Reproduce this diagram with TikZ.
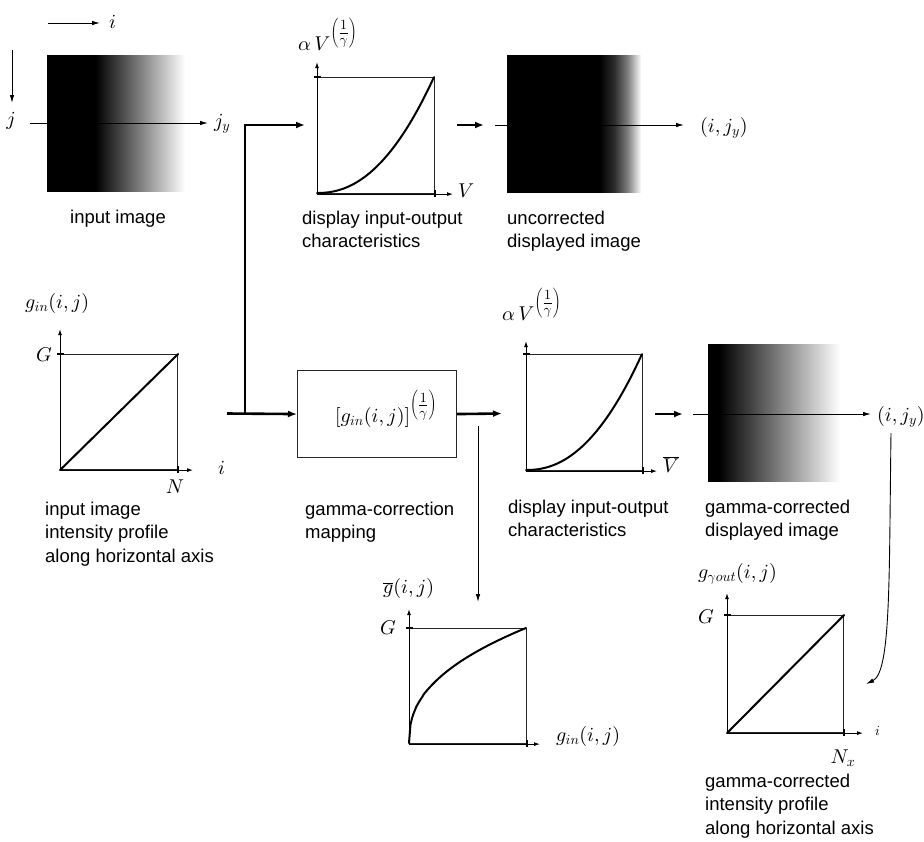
\documentclass[tikz,border=0pt]{standalone}
\usepackage[no-math]{fontspec}
\newfontfamily\lab{Liberation Sans}
\DeclareFontShape{OML}{cmm}{m}{it}{<->cmmi10}{}
\DeclareFontShape{OT1}{cmr}{m}{n}{<->cmr10}{}
\DeclareFontShape{OMS}{cmsy}{m}{n}{<->cmsy10}{}
\usetikzlibrary{arrows.meta}
\pgfdeclarehorizontalshading{inimgsh}{100bp}{color(0bp)=(black); color(25bp)=(black); color(42.5bp)=(black); color(75bp)=(white); color(100bp)=(white)}
\pgfdeclarehorizontalshading{uncsh}{100bp}{color(0bp)=(black); color(25bp)=(black); color(59.5bp)=(black); color(65bp)=(white!18!black); color(70bp)=(white!50!black); color(73.5bp)=(white!85!black); color(75bp)=(white); color(100bp)=(white)}
\pgfdeclarehorizontalshading{corsh}{100bp}{color(0bp)=(black); color(25bp)=(black); color(29bp)=(black); color(73.5bp)=(white); color(75bp)=(white); color(100bp)=(white)}
\newcommand{\gexp}{^{\textstyle\left(\frac{1}{\gamma}\right)}}
\begin{document}
\begin{tikzpicture}[x=1pt,y=-1pt,
  lbl/.style={font=\lab\fontsize{18.5}{23.5}\selectfont, align=left, inner sep=0, anchor=base west},
  mth/.style={font=\fontsize{20}{24}\selectfont, inner sep=0},
  frame/.style={draw=black!85, line width=1.1pt, inner sep=0, anchor=north west},
  img/.style={inner sep=0, anchor=north west, shade},
  crv/.style={line width=2pt, line cap=round},
  ax/.style={line width=0.9pt, -{Latex[length=6pt,width=4pt]}},
  tickmark/.style={line width=2.2pt},
  conn/.style={line width=2.6pt, -{Latex[length=9pt,width=7pt]}},
  thinarr/.style={line width=0.9pt, -{Latex[length=8pt,width=4.5pt]}},
  boxstyle/.style={draw=black!85, line width=1.1pt, inner sep=0, anchor=north west}]
\useasboundingbox (0,0) rectangle (924,841);

% ---------- orientation arrows
\coordinate (ia) at (48,23); \coordinate (ib) at (100,23);
\node[mth, anchor=base west] (ilab) at (109,28) {$i$};
\draw[thinarr] (ia) -- (ib);
\coordinate (ja) at (12,50); \coordinate (jb) at (12,103);
\draw[thinarr] (ja) -- (jb);
\node[mth, anchor=base] (jlab) at (11,125) {$j$};

% ---------- input image
\node[img, shading=inimgsh, minimum width=138, minimum height=136] (inimg) at (47,55) {};
\coordinate (scanA) at (30,123); \coordinate (scanB) at (208,123);
\draw[thinarr] (scanA) -- (scanB);
\node[mth, anchor=base west] (jy) at (214,127) {$j_y$};
\node[lbl] (inimgtxt) at (70,223) {input image};

% ---------- thick routing
\coordinate (c1) at (245,125);
\coordinate (c2) at (245,413.5);
\coordinate (c0) at (227,413.5);
\coordinate (a1) at (305,125);

% ---------- top display characteristic
\node[frame, minimum width=117, minimum height=116] (g1) at (317,77) {};
\draw[conn, line join=miter] (c2) -- (c1) -- (a1);
\draw[ax] (g1.south west) -- ++(0,-132);
\draw[ax] (g1.south west) -- ++(136,0);
\draw[tickmark] ([xshift=-3]g1.north west) -- ([xshift=4]g1.north west);
\draw[tickmark] ([yshift=-3]g1.south east) -- ([yshift=4]g1.south east);
\draw[crv] plot[domain=0:1, samples=50] ({317+117*\x}, {193-116*pow(\x,2.2)});
\node[mth, anchor=base west] (Vlab) at (458,197) {$V$};
\node[mth, anchor=base west] (av1) at (298,50) {$\alpha\,V\gexp$};
\node[lbl] (d1txt) at (302,247.5) {display input-output\\characteristics};

% ---------- uncorrected image
\coordinate (a2s) at (457,125); \coordinate (a2e) at (484,125);
\draw[conn] (a2s) -- (a2e);
\node[img, shading=uncsh, minimum width=134, minimum height=137] (uncimg) at (507,55) {};
\coordinate (s2a) at (495,125); \coordinate (s2b) at (684,125);
\draw[thinarr] (s2a) -- (s2b);
\node[mth, anchor=base west] (ijy1) at (700,132) {$(i,j_y)$};
\node[lbl] (unctxt) at (507,247.5) {uncorrected\\displayed image};

% ---------- input intensity profile
\node[frame, minimum width=117, minimum height=115] (g2) at (60,354) {};
\draw[ax] (g2.south west) -- ++(0,-141);
\draw[ax] (g2.south west) -- ++(133,0);
\draw[tickmark] ([xshift=-3]g2.north west) -- ([xshift=4]g2.north west);
\draw[tickmark] ([yshift=-3]g2.south east) -- ([yshift=4]g2.south east);
\draw[crv] (g2.south west) -- (g2.north east);
\node[mth, anchor=base west] (ginlab) at (25,308) {$g_{in}(i,j)$};
\node[mth, anchor=base east] (G2) at (52,361) {$G$};
\node[mth, anchor=base] (Nlab) at (175,493) {$N$};
\node[mth, anchor=base west] (ilab2) at (218,474) {$i$};
\node[lbl] (g2txt) at (45,562) {input image\\intensity profile\\along horizontal axis};

% ---------- gamma-correction box
\node[boxstyle, minimum width=159, minimum height=87] (box) at (297,370) {};
\node[mth, anchor=center] (boxf) at (386,409) {$\bigl[g_{in}(i,j)\bigr]\gexp$};
\draw[conn] (c0) -- (box.west);
\coordinate (a3e) at (502,413.5);
\draw[conn] (box.east) -- (a3e);
\node[lbl] (boxtxt) at (305,538.5) {gamma-correction\\mapping};
\coordinate (d1) at (478,426); \coordinate (d2) at (478,602);
\draw[thinarr] (d1) -- (d2);

% ---------- middle display characteristic
\node[frame, minimum width=116, minimum height=116] (g3) at (526,354) {};
\draw[ax] (g3.south west) -- ++(0,-130);
\draw[ax] (g3.south west) -- ++(131,0);
\draw[tickmark] ([xshift=-3]g3.north west) -- ([xshift=4]g3.north west);
\draw[tickmark] ([yshift=-3]g3.south east) -- ([yshift=4]g3.south east);
\draw[crv] plot[domain=0:1, samples=50] ({526+116*\x}, {470-116*pow(\x,2.2)});
\node[mth, anchor=base west] (Vbar) at (663,472) {$\overline{V}$};
\node[mth, anchor=base west] (av2) at (502,320) {$\alpha\,V\gexp$};
\node[lbl] (d3txt) at (508,536.5) {display input-output\\characteristics};

% ---------- gamma-corrected image
\coordinate (a4s) at (655,414); \coordinate (a4e) at (683,414);
\draw[conn] (a4s) -- (a4e);
\node[img, shading=corsh, minimum width=136, minimum height=137] (corimg) at (708,344) {};
\coordinate (s4a) at (693,414); \coordinate (s4b) at (871,414);
\draw[thinarr] (s4a) -- (s4b);
\node[mth, anchor=base west] (ijy2) at (877,421) {$(i,j_y)$};
\node[lbl] (cortxt) at (705,536.5) {gamma-corrected\\displayed image};

% ---------- gamma-correction curve
\node[frame, minimum width=117, minimum height=115] (g4) at (409,628) {};
\draw[ax] (g4.south west) -- ++(0,-135);
\draw[ax] (g4.south west) -- ++(131,0);
\draw[tickmark] ([xshift=-3]g4.north west) -- ([xshift=4]g4.north west);
\draw[tickmark] ([yshift=-3]g4.south east) -- ([yshift=4]g4.south east);
\draw[crv] plot[domain=0:1, samples=80] ({409+117*\x}, {743-115*pow(\x,0.42)});
\node[mth, anchor=base west] (gbar) at (383,593) {$\overline{g}(i,j)$};
\node[mth, anchor=base east] (G4) at (396,634) {$G$};
\node[mth, anchor=base west] (gin4) at (556,741) {$g_{in}(i,j)$};

% ---------- output intensity profile
\node[frame, minimum width=116, minimum height=117] (g5) at (727,615) {};
\draw[ax] (g5.south west) -- ++(0,-140);
\draw[ax] (g5.south west) -- ++(136,0);
\draw[tickmark] ([xshift=-3]g5.north west) -- ([xshift=4]g5.north west);
\draw[tickmark] ([yshift=-3]g5.south east) -- ([yshift=4]g5.south east);
\draw[crv] (g5.south west) -- (g5.north east);
\node[mth, anchor=base west] (gout) at (698,578) {$g_{\gamma out}(i,j)$};
\node[mth, anchor=base east] (G5) at (714,623) {$G$};
\node[mth, anchor=base] (Nx) at (843,763) {$N_x$};
\node[font=\fontsize{14}{16}\selectfont, inner sep=0, anchor=base west] (ilab5) at (875,735) {$i$};
\node[lbl] (g5txt) at (705,834) {gamma-corrected\\intensity profile\\along horizontal axis};

% ---------- curved link
\coordinate (k1) at (891,433); \coordinate (k2) at (866,684);
\draw[thinarr] (k1) .. controls (889,580) and (891,672) .. (k2);
\end{tikzpicture}
\end{document}
